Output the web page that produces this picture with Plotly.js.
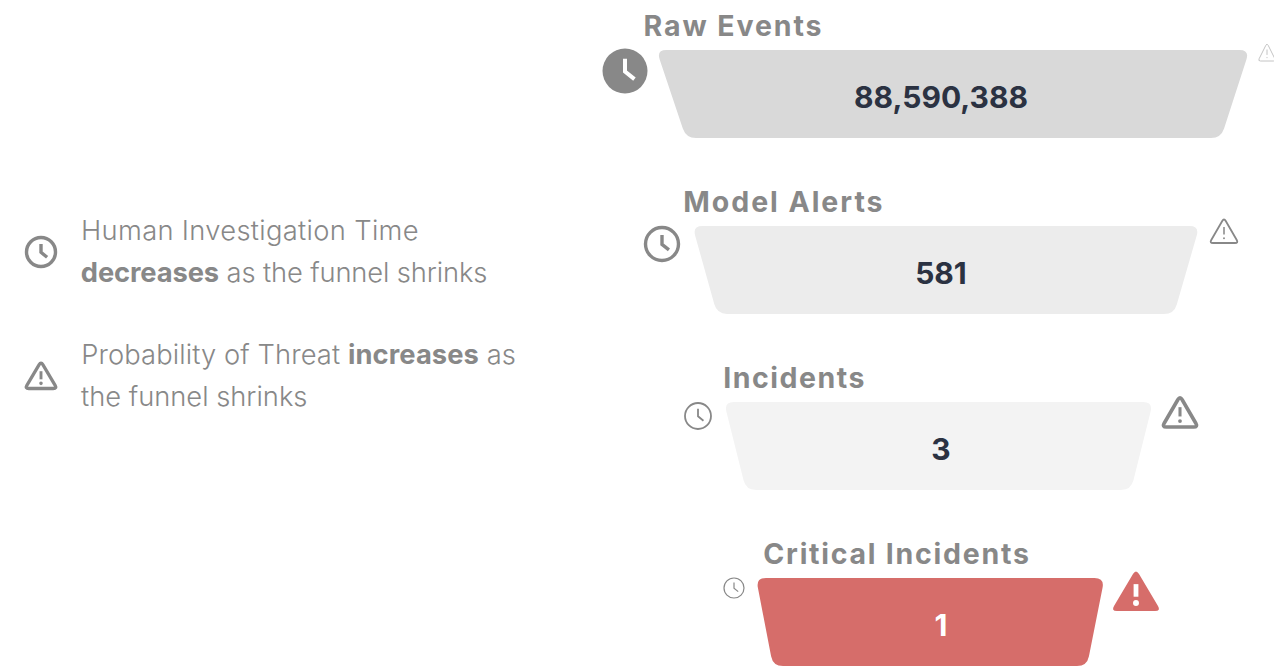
<!DOCTYPE html>
<html><head><meta charset="utf-8">
<script src="https://cdn.plot.ly/plotly-3.0.1.min.js"></script>
<style>html,body{margin:0;padding:0;background:#fff;overflow:hidden}#c{width:1274px;height:666px}</style>
</head><body><div id="c"></div>
<script>
const stages=['Raw Events','Model Alerts','Incidents','Critical Incidents'];
const counts=[88590388,581,3,1];
const topLeft=[656.5,692.5,724,756];
const topRight=[1249.5,1199.5,1153,1104.5];
const bottomLeft=[686,717,746,773];
const bottomRight=[1221,1174,1131,1087];
const rowTop=[50,226,402,578];
const rowBottom=[138,314,490,666];
const fills=['#d9d9d9','#ececec','#f3f3f3','#d66d6a'];
const countColors=['#2b3242','#2b3242','#2b3242','#ffffff'];
const labelX=[643,683,723,763];
const labelY=[25,201,377,553];
const labelSpacing=[1.9,1.95,1.5,1.75];
const legendText=['Human Investigation Time','<b>decreases</b> as the funnel shrinks','Probability of Threat <b>increases</b> as','the funnel shrinks'];
const legendY=[230,272,354,396];
const legendSpacing=[0.33,-0.12,0.1,0];
const GREY='#888888';
function rounded(pts,r){
  let d='';const n=pts.length;
  for(let i=0;i<n;i++){
    const p=pts[i],a=pts[(i+n-1)%n],b=pts[(i+1)%n];
    const la=Math.hypot(a[0]-p[0],a[1]-p[1]),lb=Math.hypot(b[0]-p[0],b[1]-p[1]);
    const s=[p[0]+(a[0]-p[0])*r/la,p[1]+(a[1]-p[1])*r/la];
    const e=[p[0]+(b[0]-p[0])*r/lb,p[1]+(b[1]-p[1])*r/lb];
    d+=(i?'L':'M')+s[0]+' '+s[1]+' Q'+p[0]+' '+p[1]+' '+e[0]+' '+e[1]+' ';
  }
  return d+'Z';
}
const shapes=[];
stages.forEach((_,i)=>{
  shapes.push({type:'path',xref:'x',yref:'y',layer:'below',fillcolor:fills[i],line:{width:0},
   path:rounded([[topLeft[i],rowTop[i]],[topRight[i],rowTop[i]],[bottomRight[i],rowBottom[i]],[bottomLeft[i],rowBottom[i]]],10)});
});
function clock(cx,cy,r,w,color,filled){
  shapes.push({type:'circle',xref:'x',yref:'y',x0:cx-r,x1:cx+r,y0:cy-r,y1:cy+r,
    fillcolor:filled?color:'rgba(0,0,0,0)',line:{color:color,width:filled?0:w}});
  shapes.push({type:'path',xref:'x',yref:'y',line:{color:filled?'#ffffff':color,width:w},
    path:`M${cx} ${cy-r*0.55} L${cx} ${cy+r*0.02} L${cx+r*0.42} ${cy+r*0.36}`});
}
function warn(x0,x1,y0,y1,w,color,filled){
  const cx=(x0+x1)/2,h=y1-y0;
  shapes.push({type:'path',xref:'x',yref:'y',fillcolor:filled?color:'rgba(0,0,0,0)',line:{color:color,width:filled?0:w},
    path:rounded([[cx,y0],[x1,y1],[x0,y1]],h*0.14)});
  const ec=filled?'#ffffff':color,ew=filled?w:Math.max(w*0.85,1);
  shapes.push({type:'path',xref:'x',yref:'y',line:{color:ec,width:ew},path:`M${cx} ${y0+h*0.36} L${cx} ${y0+h*0.66}`});
  const dr=ew*0.62;
  shapes.push({type:'circle',xref:'x',yref:'y',x0:cx-dr,x1:cx+dr,y0:y0+h*0.81-dr,y1:y0+h*0.81+dr,fillcolor:ec,line:{width:0}});
}
clock(625,71,22.5,4,GREY,true);
clock(662,244,16.5,3.4,GREY,false);
clock(698,416,13,1.8,GREY,false);
clock(734,588,10,1.2,GREY,false);
clock(41,252,14.5,3.4,GREY,false);
warn(1258,1276,43,61,1,'#c4c4c4',false);
warn(1209.5,1238.5,218,243,1.8,GREY,false);
warn(1162,1198,396,427,3.6,GREY,false);
warn(1111,1161,569,611,4.8,'#d66d6a',true);
warn(25,57,361.5,388.5,3.4,GREY,false);

const FONT='Inter, sans-serif';
const annotations=[];
const plain=t=>t.replace(/<[^>]+>/g,'');
stages.forEach((s,i)=>annotations.push({x:labelX[i]+s.length*labelSpacing[i]/2,y:labelY[i],text:'<b>'+s+'</b>',showarrow:false,xanchor:'left',yanchor:'middle',
  xref:'x',yref:'y',borderpad:0,borderwidth:0,font:{family:FONT,size:28.5,color:GREY}}));
legendText.forEach((t,i)=>annotations.push({x:81+plain(t).length*legendSpacing[i]/2,y:legendY[i],text:t,showarrow:false,xanchor:'left',yanchor:'middle',xref:'x',yref:'y',
  borderpad:0,borderwidth:0,font:{family:FONT,size:27.3,color:GREY,weight:300}}));
const css=labelSpacing.concat(legendSpacing).map((v,i)=>`g.annotation[data-index="${i}"] text{letter-spacing:${v}px}`).join('\n');
const st=document.createElement('style');st.textContent=css;document.head.appendChild(st);
const data=[{type:'scatter',mode:'text',hoverinfo:'skip',cliponaxis:false,showlegend:false,
  x:stages.map(()=>941),
  y:rowTop.map((t,i)=>(t+rowBottom[i])/2+6),
  text:counts.map(v=>'<b>'+v.toLocaleString('en-US')+'</b>'),
  textposition:'middle center',
  textfont:{family:FONT,size:30,color:countColors}}];
Plotly.newPlot('c',data,{width:1274,height:666,margin:{l:0,r:0,t:0,b:0},paper_bgcolor:'#fff',plot_bgcolor:'#fff',showlegend:false,
  xaxis:{range:[0,1274],visible:false,fixedrange:true},yaxis:{range:[666,0],visible:false,fixedrange:true},shapes,annotations},{displayModeBar:false,staticPlot:true});
</script></body></html>
